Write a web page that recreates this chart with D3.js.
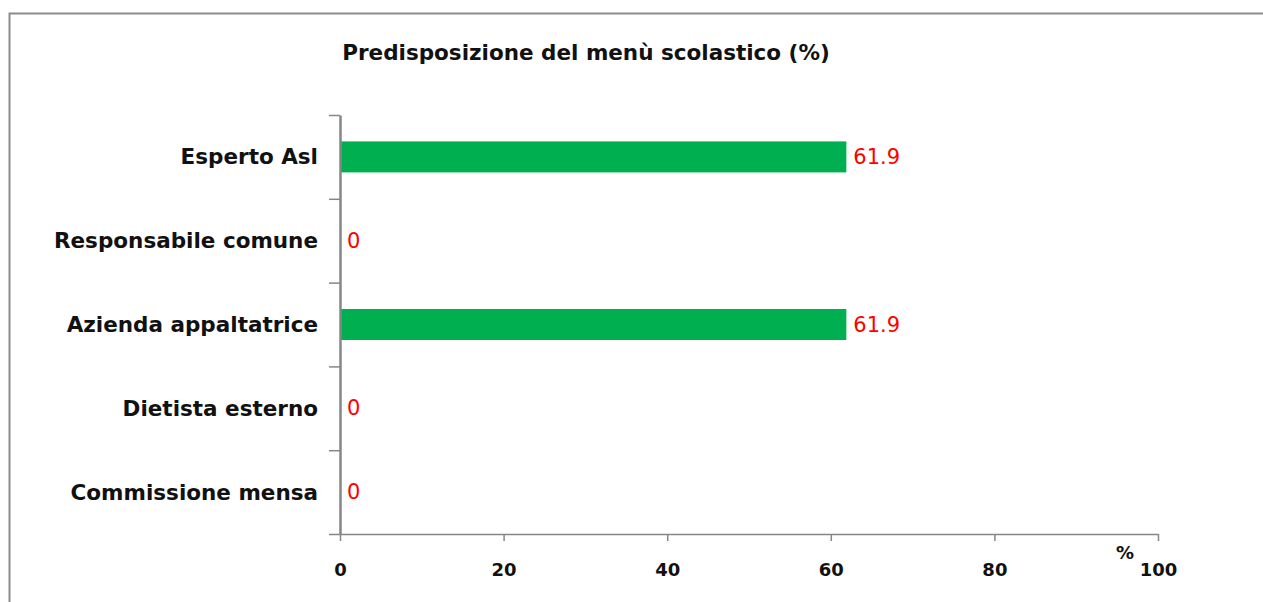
<!DOCTYPE html>
<html>
<head>
<meta charset="utf-8">
<script src="https://cdn.jsdelivr.net/npm/d3@7"></script>
<style>
  body { margin: 0; background: #fff; }
  text { font-family: "DejaVu Sans", sans-serif; }
</style>
</head>
<body>
<div id="chart"></div>
<script>
// Data
const title = "Predisposizione del menù scolastico (%)";
const categories = ["Esperto Asl", "Responsabile comune", "Azienda appaltatrice", "Dietista esterno", "Commissione mensa"];
const values = [61.9, 0, 61.9, 0, 0];
const xTicks = [0, 20, 40, 60, 80, 100];
const xUnit = "%";

const width = 1263, height = 602;
const margin = { top: 115, left: 340, right: 105, bottom: 68 };

const svg = d3.select("#chart").append("svg")
  .attr("width", width)
  .attr("height", height);

// chart frame (runs off the right and bottom edge)
svg.append("rect")
  .attr("x", 9.5).attr("y", 13.5)
  .attr("width", 1270).attr("height", 610)
  .attr("fill", "none")
  .attr("stroke", "#8c8c8c")
  .attr("stroke-width", 2);

svg.append("text")
  .attr("x", 586).attr("y", 52)
  .attr("text-anchor", "middle")
  .attr("dominant-baseline", "central")
  .style("font-size", "21.5px")
  .style("font-weight", "bold")
  .attr("fill", "#111")
  .text(title);

const x = d3.scaleLinear()
  .domain([0, 100])
  .range([margin.left, width - margin.right]);

const y = d3.scaleBand()
  .domain(categories)
  .range([margin.top, height - margin.bottom])
  .paddingInner(0.63)
  .paddingOuter(0.315);

// band boundaries for the y ticks
const yEdge = d3.scaleLinear()
  .domain([0, categories.length])
  .range([margin.top, height - margin.bottom]);

// Bars
svg.append("g").selectAll("rect")
  .data(values)
  .join("rect")
  .attr("x", x(0))
  .attr("y", (d, i) => y(categories[i]))
  .attr("width", d => x(d) - x(0))
  .attr("height", y.bandwidth())
  .attr("fill", "#00b050");

// Value labels
svg.append("g").selectAll("text")
  .data(values)
  .join("text")
  .attr("x", d => x(d) + 7)
  .attr("y", (d, i) => y(categories[i]) + y.bandwidth() / 2)
  .attr("dominant-baseline", "central")
  .style("font-size", "21px")
  .attr("fill", "#ff0000")
  .text(d => d3.format("")(d));

// Y axis
const yAxis = svg.append("g")
  .attr("transform", `translate(${margin.left},0)`)
  .call(d3.axisLeft(yEdge)
    .tickValues(d3.range(categories.length + 1))
    .tickSize(11)
    .tickSizeOuter(0)
    .tickFormat(""));
yAxis.select(".domain").attr("stroke", "#868686").attr("stroke-width", 2.5);
yAxis.selectAll(".tick line").attr("stroke", "#868686").attr("stroke-width", 1.5);

// Category labels
svg.append("g").selectAll("text")
  .data(categories)
  .join("text")
  .attr("x", 318)
  .attr("y", d => y(d) + y.bandwidth() / 2)
  .attr("text-anchor", "end")
  .attr("dominant-baseline", "central")
  .style("font-size", "21.5px")
  .style("font-weight", "bold")
  .attr("fill", "#111")
  .text(d => d);

// X axis
const xAxis = svg.append("g")
  .attr("transform", `translate(0,${height - margin.bottom})`)
  .call(d3.axisBottom(x)
    .tickValues(xTicks)
    .tickSize(7)
    .tickSizeOuter(0)
    .tickPadding(22));
xAxis.select(".domain").attr("stroke", "#868686").attr("stroke-width", 1.5);
xAxis.selectAll(".tick line").attr("stroke", "#868686").attr("stroke-width", 1.5);
xAxis.selectAll(".tick text")
  .style("font-size", "18px")
  .style("font-weight", "bold")
  .style("font-family", "DejaVu Sans, sans-serif")
  .attr("fill", "#111");

svg.append("text")
  .attr("x", x(100) - 33)
  .attr("y", height - margin.bottom + 18)
  .attr("text-anchor", "middle")
  .attr("dominant-baseline", "central")
  .style("font-size", "18px")
  .style("font-weight", "bold")
  .attr("fill", "#111")
  .text(xUnit);
</script>
</body>
</html>
